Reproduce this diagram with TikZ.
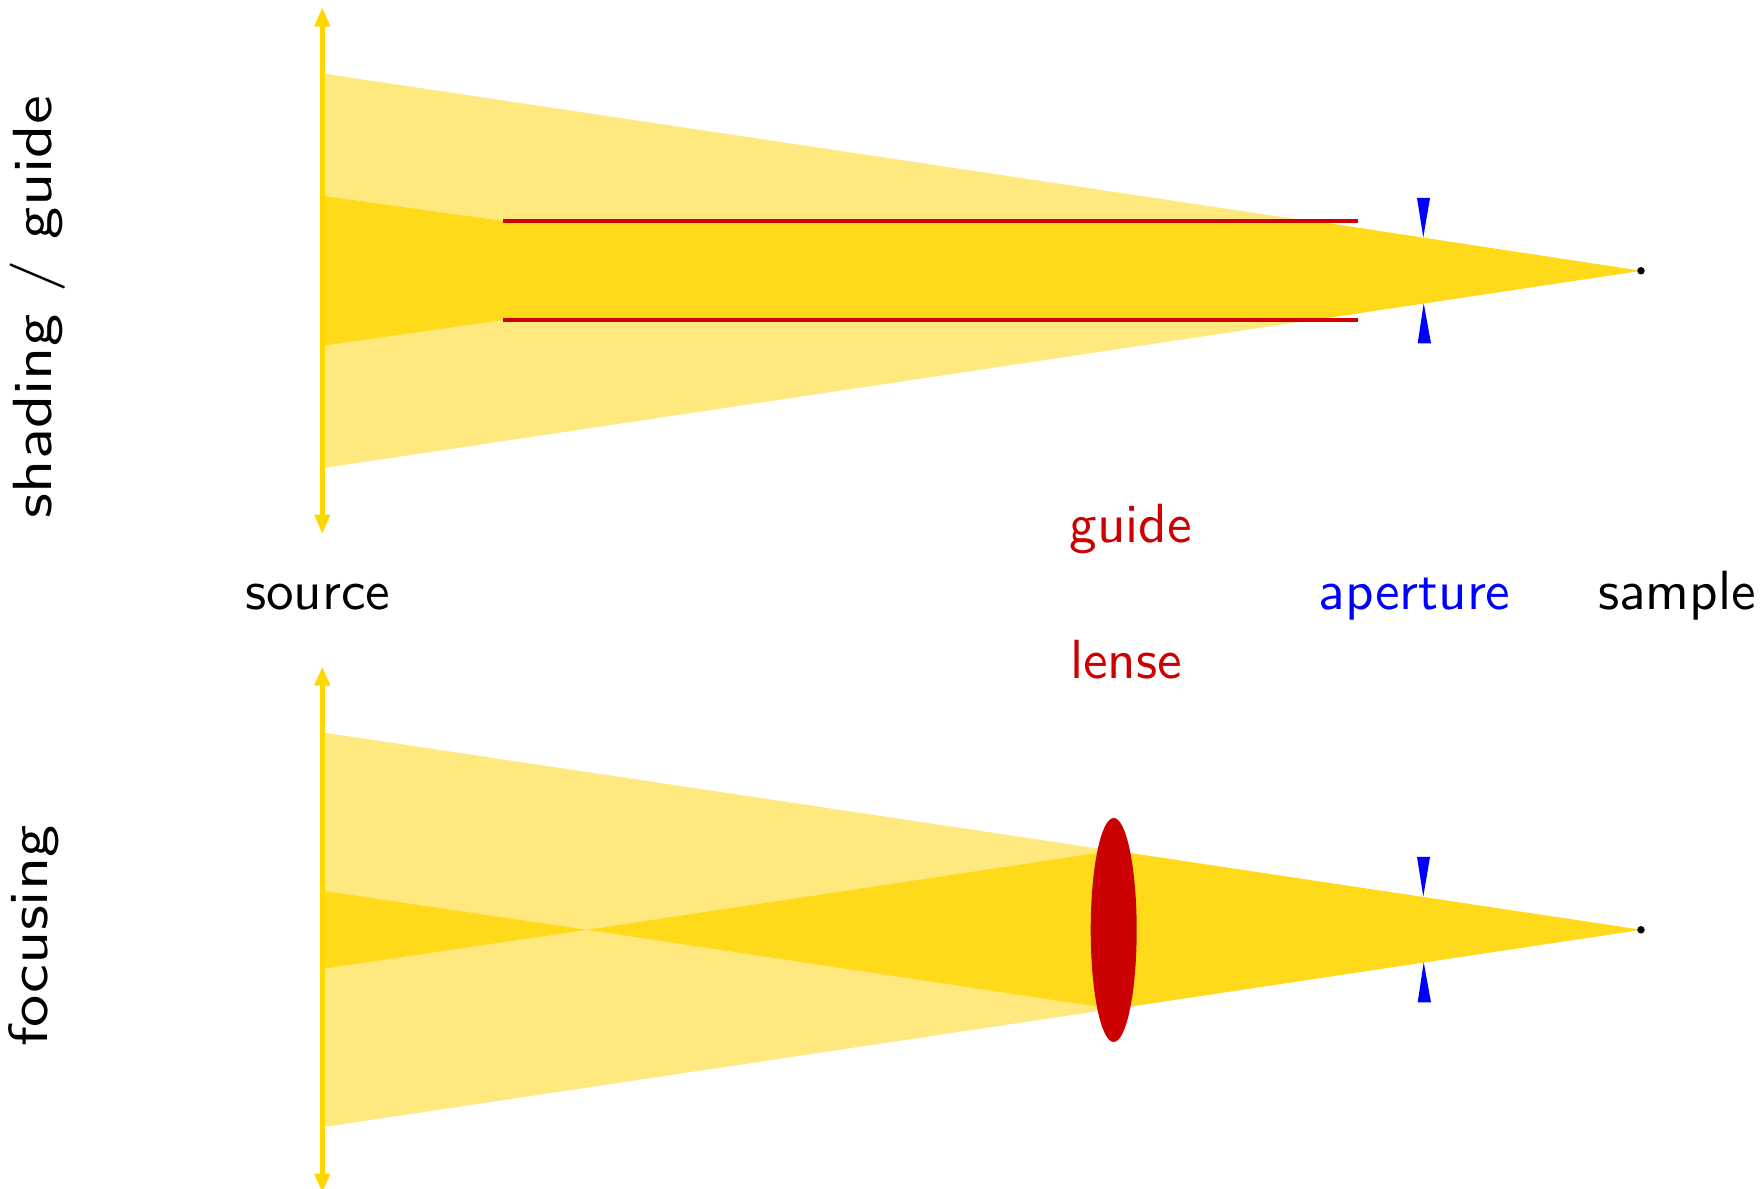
\documentclass[tikz,border=0pt]{standalone}
\usepackage{xcolor}
\usepackage{fontspec}
\usepackage{tikz}
\usetikzlibrary{
  arrows.meta,
  shapes.geometric
}
\newfontfamily\lblfont{lmsans10-regular.otf}
\definecolor{beamAxis}{HTML}{FFD700}
\definecolor{beamDark}{HTML}{FFDA1A}
\definecolor{beamLight}{HTML}{FFE97F}
\definecolor{optRed}{HTML}{CC0000}
\definecolor{optBlue}{HTML}{0000FF}
\tikzset{
  srcaxis/.style={draw=beamAxis, line width=1.5pt, {Triangle[length=5.5pt,width=4.2pt]}-{Triangle[length=5.5pt,width=4.2pt]}},
  lbl/.style={font=\lblfont\fontsize{15.7}{18}\selectfont, anchor=base, inner sep=0pt},
  sidelbl/.style={lbl, transform shape, rotate=90, xscale=1.17},
  sampledot/.style={circle, fill=black, inner sep=0pt, minimum size=0.075cm}
}
\begin{document}
\begin{tikzpicture}
  \useasboundingbox (0,0) rectangle (17.63,11.89);
  % shading / guide
  \fill[beamLight] (3.223,11.156) -- (16.41,9.182) -- (3.223,7.208) -- cycle;
  \fill[beamDark] (3.223,9.932) -- (5.03,9.68) -- (13.14,9.68) -- (16.41,9.182) -- (13.14,8.69) -- (5.03,8.69) -- (3.223,8.432) -- cycle;
  \draw[srcaxis] (3.223,6.55) -- (3.223,11.817);
  \draw[optRed, line width=1pt] (5.03,9.68) -- (13.58,9.68);
  \draw[optRed, line width=1pt] (5.03,8.69) -- (13.58,8.69);
  \fill[optBlue] (14.17,9.91) -- (14.30,9.91) -- (14.233,9.516) -- cycle;
  \fill[optBlue] (14.177,8.457) -- (14.31,8.457) -- (14.237,8.857) -- cycle;
  \node[sampledot] (sampleA) at (16.41,9.182) {};
  % focusing
  \fill[beamLight] (3.223,4.566) -- (16.41,2.592) -- (3.223,0.618) -- cycle;
  \fill[beamDark] (3.223,2.982) -- (5.87,2.592) -- (11.137,3.385) -- (16.41,2.592) -- (11.137,1.799) -- (5.87,2.592) -- (3.223,2.202) -- cycle;
  \draw[srcaxis] (3.223,-0.04) -- (3.223,5.227);
  \node[ellipse, fill=optRed, inner sep=0pt, minimum width=0.46cm, minimum height=2.24cm] (lens) at (11.137,2.59) {};
  \fill[optBlue] (14.17,3.32) -- (14.30,3.32) -- (14.233,2.926) -- cycle;
  \fill[optBlue] (14.177,1.867) -- (14.31,1.867) -- (14.237,2.267) -- cycle;
  \node[sampledot] (sampleB) at (16.41,2.592) {};
  % labels
  \node[lbl] (source) at (3.176,5.79) {source};
  \node[lbl, optBlue] (aperture) at (14.145,5.79) {aperture};
  \node[lbl] (sample) at (16.77,5.79) {sample};
  \node[lbl, optRed] (guide) at (11.306,6.46) {guide};
  \node[lbl, optRed] (lense) at (11.26,5.10) {lense};
  \node[sidelbl] (shading) at (0.52,8.82) {shading / guide};
  \node[sidelbl] (focusing) at (0.48,2.53) {focusing};
\end{tikzpicture}
\end{document}
